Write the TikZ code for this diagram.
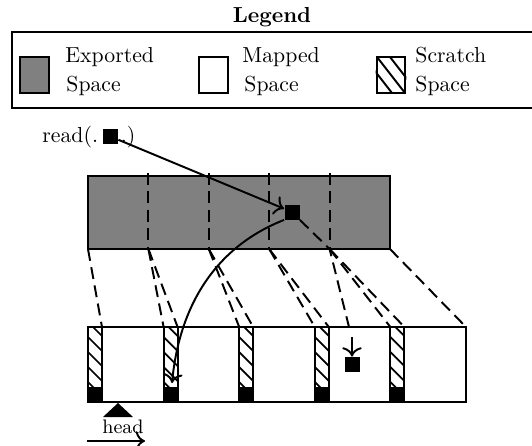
\documentclass[tikz,border=0pt]{standalone}
\usetikzlibrary{arrows.meta}
\begin{document}
\begin{tikzpicture}[x=0.46pt,y=-0.46pt]
\tikzset{
  border/.style={line width=0.9pt},
  dsh/.style={line width=0.9pt, dash pattern=on 5.5pt off 3pt},
  arr/.style={line width=0.9pt, -{To[scale=1.2]}},
  blk/.style={fill=black, draw=none, minimum size=6.9pt, inner sep=0pt},
  lsq/.style={draw, line width=0.9pt, minimum width=13.3pt, minimum height=16.6pt, inner sep=0pt},
  lbl/.style={anchor=base west, inner sep=0pt},
}
\useasboundingbox (0,0) rectangle (532,445);
% ---------- legend ----------
\node[font=\bfseries, anchor=base, inner sep=0pt] (legtitle) at (272,22) {Legend};
\draw[border] (534,32) -- (12,32) -- (12,108) -- (534,108);
\node[lsq, fill=black!50] (lgexp) at (34.5,75) {};
\node[lsq, fill=white] (lgmap) at (213.5,75) {};
\node[lsq] (lgscr) at (391,75) {};
\begin{scope}
  \clip (lgscr.south west) rectangle (lgscr.north east);
  \foreach \d in {-13,0,13}
    \draw[border] ({377+\d},57) -- ({405+\d},93);
\end{scope}
\node[lsq] at (391,75) {};
\node[lbl] (lt1) at (65,62) {Exported};
\node[lbl] (lt2) at (66,91) {Space};
\node[lbl] (lt3) at (242,62) {Mapped};
\node[lbl] (lt4) at (244,91) {Space};
\node[lbl] (lt5) at (415,62) {Scratch};
\node[lbl] (lt6) at (415,91) {Space};
% ---------- coordinates ----------
\foreach \i in {0,...,5} {
  \coordinate (t\i) at ({88+60.4*\i},249);
  \coordinate (b\i) at ({88+75.6*\i},327);
  \coordinate (s\i) at ({88+75.6*\i+14},327);
}
% ---------- exported space ----------
\draw[border, fill=black!50] (88,176) rectangle (390,249);
\foreach \i in {1,...,4}
  \draw[dsh] ({88+60.4*\i},173) -- (t\i);
% ---------- mapped space ----------
\draw[border] (88,327) rectangle (466,402);
\foreach \i in {0,...,4} {
  \begin{scope}
    \clip ({88+75.6*\i},327) rectangle ({88+75.6*\i+14},387);
    \foreach \k in {-1,...,5}
      \draw[line width=0.8pt] ({88+75.6*\i},{322+15*\k}) -- ({88+75.6*\i+14},{336+15*\k});
  \end{scope}
  \fill ({88+75.6*\i},387) rectangle ({88+75.6*\i+14},402);
  \draw[border] ({88+75.6*\i},327) -- ({88+75.6*\i},402);
  \draw[border] ({88+75.6*\i+14},327) -- ({88+75.6*\i+14},402);
}
\draw[border] (88,327) rectangle (466,402);
% ---------- mapping lines ----------
\draw[dsh] (t0) -- (s0);
\foreach \i in {1,...,4} {
  \draw[dsh] (t\i) -- (b\i);
  \draw[dsh] (t\i) -- (s\i);
}
\draw[dsh] (t5) -- (b5);
% ---------- blocks ----------
\node[blk] (eblk) at (292,212) {};
\node[blk] (mblk) at (352,364.5) {};
\node[lbl] (rtxt) at (42,142) {read(.\hspace{10.5pt}.)};
\node[blk] (rblk) at (110.5,136.5) {};
\coordinate (mp) at (349,327);
\coordinate (marr) at (352,337);
\coordinate (cend) at (172,383);
\draw[arr] (rblk) -- (eblk);
\draw[arr] (eblk.south west) .. controls (220,245) and (180,300) .. (cend);
\draw[dsh] (eblk.south east) -- (t4) -- (mp);
\draw[arr] (marr) -- (mblk.north);
% ---------- head ----------
\fill (118,403) -- (103,417) -- (133,417) -- cycle;
\node[font=\small, anchor=base, inner sep=0pt] (headtxt) at (123,433) {head};
\coordinate (ha) at (87,441);
\coordinate (hb) at (145,441);
\draw[arr] (ha) -- (hb);
\end{tikzpicture}
\end{document}
